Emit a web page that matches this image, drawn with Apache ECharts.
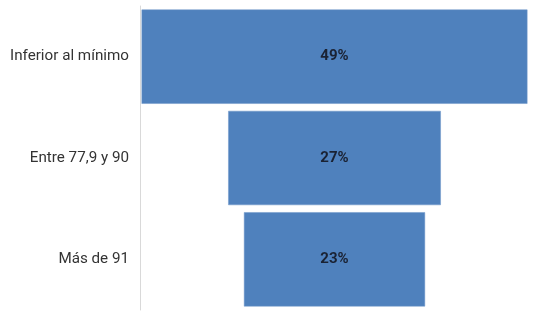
<!DOCTYPE html>
<html>
<head>
<meta charset="utf-8">
<script src="https://cdn.jsdelivr.net/npm/echarts@6/dist/echarts.min.js"></script>
<style>
  html, body { margin: 0; padding: 0; background: #fff; }
  #chart { width: 542px; height: 321px; }
</style>
</head>
<body>
<div id="chart"></div>
<script>
// categorias e valores (%)
const categorias = ['Inferior al mínimo', 'Entre 77,9 y 90', 'Más de 91'];
const valores = [49, 27, 23];
const maxEixo = 49.4;

// deslocamento invisível para centralizar as barras (efeito funil)
const deslocamento = valores.map(v => (maxEixo - v) / 2);

const chart = echarts.init(document.getElementById('chart'));

const option = {
  animation: false,
  grid: { left: 140, right: 13, top: 6, bottom: 11 },
  xAxis: {
    type: 'value',
    min: 0,
    max: maxEixo,
    show: false
  },
  yAxis: {
    type: 'category',
    data: categorias,
    inverse: true,
    axisLine: { show: true, lineStyle: { color: '#d9d9d9' } },
    axisTick: { show: false },
    axisLabel: {
      margin: 11,
      fontSize: 15.2,
      color: '#333',
      fontFamily: 'Roboto'
    }
  },
  series: [
    {
      type: 'bar',
      stack: 'funil',
      data: deslocamento,
      itemStyle: { color: 'transparent' },
      silent: true,
      barWidth: '93%'
    },
    {
      type: 'bar',
      stack: 'funil',
      data: valores,
      barWidth: '93%',
      itemStyle: { color: '#4f81bd', borderColor: '#6f97c9', borderWidth: 0.5 },
      label: {
        show: true,
        position: 'inside',
        formatter: p => p.value + '%',
        fontSize: 15,
        fontWeight: 'bold',
        color: '#1a2233',
        fontFamily: 'Roboto'
      }
    }
  ]
};

chart.setOption(option);
</script>
</body>
</html>
